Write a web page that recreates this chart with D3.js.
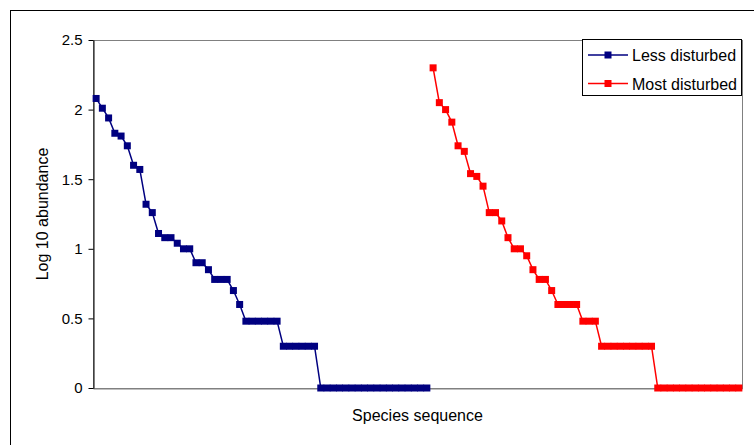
<!DOCTYPE html>
<html>
<head>
<meta charset="utf-8">
<script src="https://cdn.jsdelivr.net/npm/d3@7"></script>
<style>
  html, body { margin: 0; padding: 0; background: #fff; }
  svg { display: block; font-family: Arial, "Liberation Sans", sans-serif; }
</style>
</head>
<body>
<svg id="chart" width="754" height="445"></svg>
<script>
// ---- data (log10 abundance, ranked) ----
const lessDisturbed = [2.08, 2.01, 1.94, 1.83, 1.81, 1.74, 1.60, 1.57, 1.32, 1.26,
  1.11, 1.08, 1.08, 1.04, 1.00, 1.00, 0.90, 0.90, 0.85, 0.78,
  0.78, 0.78, 0.70, 0.60, 0.48, 0.48, 0.48, 0.48, 0.48, 0.48,
  0.30, 0.30, 0.30, 0.30, 0.30, 0.30,
  0, 0, 0, 0, 0, 0, 0, 0, 0, 0, 0, 0, 0, 0, 0, 0, 0, 0];
const mostDisturbed = [2.30, 2.05, 2.00, 1.91, 1.74, 1.70, 1.54, 1.52, 1.45, 1.26,
  1.26, 1.20, 1.08, 1.00, 1.00, 0.95, 0.85, 0.78, 0.78, 0.70,
  0.60, 0.60, 0.60, 0.60, 0.48, 0.48, 0.48,
  0.30, 0.30, 0.30, 0.30, 0.30, 0.30, 0.30, 0.30, 0.30,
  0, 0, 0, 0, 0, 0, 0, 0, 0, 0, 0, 0, 0, 0];
const seriesNames = ["Less disturbed", "Most disturbed"];
const seriesColors = ["#000080", "#FF0000"];
const yTickValues = [0, 0.5, 1, 1.5, 2, 2.5];
const yTickLabels = ["0", "0.5", "1", "1.5", "2", "2.5"];
const yTitle = "Log 10 abundance";
const xTitle = "Species sequence";

// species sequence categories: blue ranks followed by red ranks
const species = d3.range(1, lessDisturbed.length + mostDisturbed.length + 1);

const series = [
  { name: seriesNames[0], color: seriesColors[0],
    points: lessDisturbed.map((v, i) => ({ cat: species[i], v })) },
  { name: seriesNames[1], color: seriesColors[1],
    points: mostDisturbed.map((v, i) => ({ cat: species[lessDisturbed.length + i], v })) }
];

// ---- layout ----
const svg = d3.select("#chart");
const plot = { left: 93, right: 742, top: 40, bottom: 388 };
const font = "Arial, 'Liberation Sans', sans-serif";

const x = d3.scaleBand().domain(species).range([plot.left, plot.right]).padding(0);
const y = d3.scaleLinear().domain([0, 2.5]).range([plot.bottom, plot.top]);

// outer chart border
svg.append("rect")
  .attr("x", 10.5).attr("y", 10.5)
  .attr("width", 800).attr("height", 500)
  .attr("fill", "#fff").attr("stroke", "#000").attr("stroke-width", 1);

// plot area border
svg.append("rect")
  .attr("x", plot.left + 0.5).attr("y", plot.top + 0.5)
  .attr("width", plot.right - plot.left).attr("height", plot.bottom - plot.top)
  .attr("fill", "none").attr("stroke", "#808080").attr("stroke-width", 1);

// x axis (line only)
const xAxis = svg.append("g")
  .attr("transform", `translate(0,${plot.bottom + 0.5})`)
  .call(d3.axisBottom(x).tickValues([]).tickSize(0).tickSizeOuter(0));
xAxis.select(".domain").attr("stroke", "#808080");

// y axis
const yAxis = svg.append("g")
  .attr("transform", `translate(${plot.left + 0.5},0)`)
  .call(d3.axisLeft(y).tickValues(yTickValues)
    .tickFormat((d, i) => yTickLabels[i])
    .tickSize(5).tickSizeOuter(0).tickPadding(6));
yAxis.select(".domain").attr("stroke", "#000");
yAxis.selectAll(".tick line").attr("stroke", "#000");
yAxis.selectAll(".tick text")
  .attr("font-size", 15).attr("fill", "#000")
  .attr("font-family", font);

// axis titles
svg.append("text")
  .attr("transform", `translate(48,${(plot.top + plot.bottom) / 2}) rotate(-90)`)
  .attr("text-anchor", "middle")
  .attr("font-size", 16)
  .text(yTitle);
svg.append("text")
  .attr("x", (plot.left + plot.right) / 2).attr("y", 421)
  .attr("text-anchor", "middle")
  .attr("font-size", 16)
  .text(xTitle);

// series lines and markers
const line = d3.line()
  .x(d => x(d.cat) + x.bandwidth() / 2)
  .y(d => y(d.v));
const ms = 7;
series.forEach(s => {
  svg.append("path")
    .datum(s.points)
    .attr("d", line)
    .attr("fill", "none")
    .attr("stroke", s.color)
    .attr("stroke-width", 1.5);
  svg.append("g").selectAll("rect")
    .data(s.points)
    .join("rect")
    .attr("x", d => x(d.cat) + x.bandwidth() / 2 - ms / 2)
    .attr("y", d => y(d.v) - ms / 2)
    .attr("width", ms).attr("height", ms)
    .attr("fill", s.color);
});

// legend
const lg = svg.append("g");
lg.append("rect")
  .attr("x", 582.5).attr("y", 39.5)
  .attr("width", 159).attr("height", 56)
  .attr("fill", "#fff").attr("stroke", "#000").attr("stroke-width", 1);
series.forEach((s, i) => {
  const cy = 55 + i * 28.5;
  lg.append("line")
    .attr("x1", 588).attr("x2", 628)
    .attr("y1", cy).attr("y2", cy)
    .attr("stroke", s.color).attr("stroke-width", 1.5);
  lg.append("rect")
    .attr("x", 608 - 3.5).attr("y", cy - 3.5)
    .attr("width", 7).attr("height", 7)
    .attr("fill", s.color);
  lg.append("text")
    .attr("x", 632).attr("y", cy + 6)
    .attr("font-size", 16)
    .text(s.name);
});
</script>
</body>
</html>
